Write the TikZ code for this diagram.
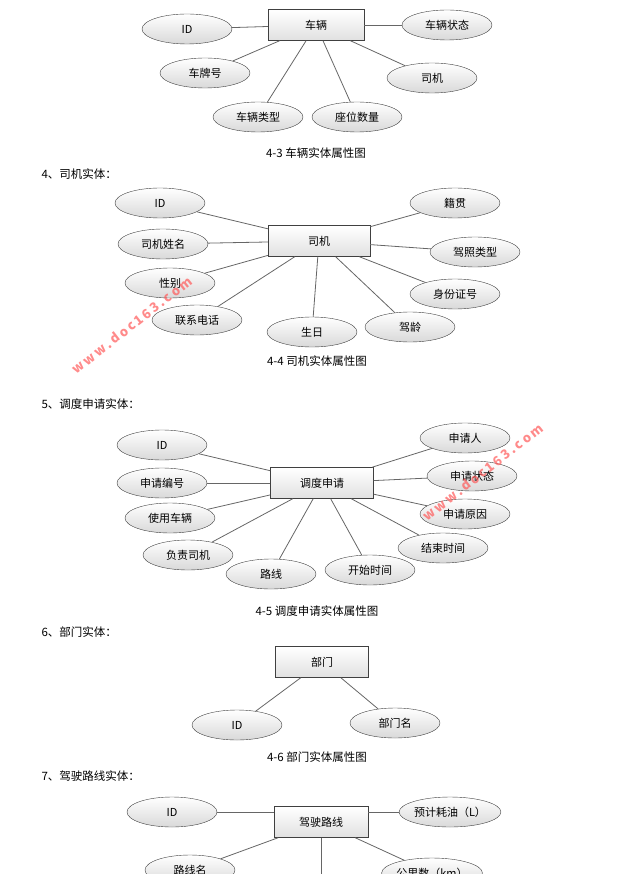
\documentclass[tikz,border=0pt]{standalone}
\usepackage{fontspec}
\usetikzlibrary{shapes.geometric}
\setmainfont{Noto Sans CJK SC}
\begin{document}
\begin{tikzpicture}[x=1pt,y=-1pt,
  attr/.style={ellipse,draw=black!75,top color=white,bottom color=black!15,minimum width=90pt,minimum height=30pt,inner sep=0pt,font=\fontsize{11}{13}\selectfont},
  ent/.style={rectangle,draw=black!75,top color=white,bottom color=black!12,minimum width=96pt,minimum height=31pt,inner sep=0pt,font=\fontsize{11}{13}\selectfont},
  ln/.style={draw=black!60,line width=0.8pt},
  captxt/.style={font=\fontsize{11.5}{13}\selectfont},
  head/.style={anchor=west,font=\fontsize{11.5}{13}\selectfont},
  wm/.style={text=red!65!white,opacity=0.7,font=\bfseries\fontsize{13}{13}\selectfont,rotate=38}]
\useasboundingbox (0,0) rectangle (639,874);
\clip (0,0) rectangle (639,874);
% diagram 1
\node[ent] (c) at (316,25) {车辆};
\node[attr] (c1) at (187,29) {ID};
\node[attr] (c2) at (447,25) {车辆状态};
\node[attr] (c3) at (205,73) {车牌号};
\node[attr] (c4) at (432,78) {司机};
\node[attr] (c5) at (258,117) {车辆类型};
\node[attr] (c6) at (357,117) {座位数量};
\foreach \a in {c1,c2,c3,c4,c5,c6} \draw[ln] (c) -- (\a);
\node[captxt] (t1) at (316,153) {4-3 车辆实体属性图};
\node[head] (h4) at (38,174) {4、司机实体：};
% diagram 2
\node[ent,minimum width=102pt] (d) at (319,241) {司机};
\node[attr] (d1) at (160,203) {ID};
\node[attr] (d2) at (163,244) {司机姓名};
\node[attr] (d3) at (170,283) {性别};
\node[attr] (d4) at (197,320) {联系电话};
\node[attr] (d5) at (312,332) {生日};
\node[attr] (d6) at (410,327) {驾龄};
\node[attr] (d7) at (455,203) {籍贯};
\node[attr] (d8) at (475,252) {驾照类型};
\node[attr] (d9) at (455,294) {身份证号};
\foreach \a in {d1,d2,d3,d4,d5,d6,d7,d8,d9} \draw[ln] (d) -- (\a);
\node[captxt] (t2) at (317,361) {4-4 司机实体属性图};
\node[head] (h5) at (38,404) {5、调度申请实体：};
% diagram 3
\node[ent,minimum width=103pt] (e) at (322,483) {调度申请};
\node[attr] (e1) at (162,445) {ID};
\node[attr] (e2) at (162,483) {申请编号};
\node[attr] (e3) at (170,518) {使用车辆};
\node[attr] (e4) at (188,555) {负责司机};
\node[attr] (e5) at (271,574) {路线};
\node[attr] (e6) at (370,570) {开始时间};
\node[attr] (e7) at (465,438) {申请人};
\node[attr] (e8) at (472,476) {申请状态};
\node[attr] (e9) at (465,514) {申请原因};
\node[attr] (e10) at (443,548) {结束时间};
\foreach \a in {e1,e2,e3,e4,e5,e6,e7,e8,e9,e10} \draw[ln] (e) -- (\a);
\node[captxt] (t3) at (317,611) {4-5 调度申请实体属性图};
\node[head] (h6) at (38,632) {6、部门实体：};
% diagram 4
\node[ent,minimum width=93pt] (f) at (322,662) {部门};
\node[attr] (f1) at (237,725) {ID};
\node[attr] (f2) at (395,723) {部门名};
\foreach \a in {f1,f2} \draw[ln] (f) -- (\a);
\node[captxt] (t4) at (317,757) {4-6 部门实体属性图};
\node[head] (h7) at (38,776) {7、驾驶路线实体：};
% diagram 5
\node[ent,minimum width=94pt] (g) at (321,822) {驾驶路线};
\node[attr] (g1) at (172,812) {ID};
\node[attr,minimum width=94pt] (g2) at (450,812) {预计耗油（L）};
\node[attr] (g3) at (190,870) {路线名};
\node[attr,minimum width=94pt] (g4) at (432,873) {公里数（km）};
\coordinate (g5) at (321,880);
\draw[ln] (g1) -- (g1 -| g.west);
\draw[ln] (g2.west) -- (g2.west -| g.east);
\foreach \a in {g3,g4} \draw[ln] (g) -- (\a);
\draw[ln] (g.south) -- (g5);
% watermarks
\node[wm] (w1) at (132,325) {w\,w\,w\,.\,d\,o\,c\,1\,6\,3\,.\,c\,o\,m};
\node[wm] (w2) at (483,472) {w\,w\,w\,.\,d\,o\,c\,1\,6\,3\,.\,c\,o\,m};
\end{tikzpicture}
\end{document}
